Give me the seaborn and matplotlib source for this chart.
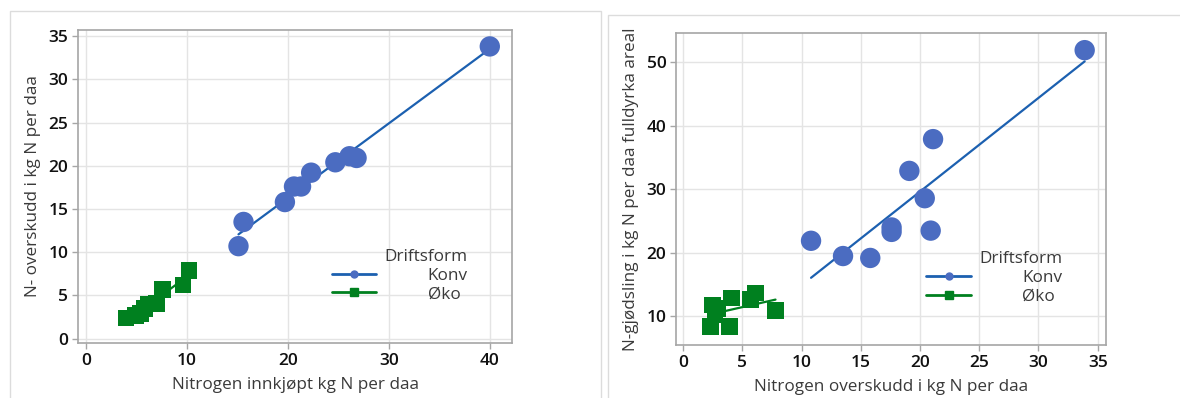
import numpy as np
import pandas as pd
import matplotlib
matplotlib.use("Agg")
import matplotlib.pyplot as plt
from matplotlib.lines import Line2D
from matplotlib.patches import Rectangle
import seaborn as sns

# ---------------- data ----------------
# Left panel: Nitrogen innkjøpt vs N-overskudd
left_konv_x = [15.1, 15.6, 19.7, 20.6, 21.3, 22.3, 24.7, 26.1, 26.8, 40.0]
left_konv_y = [10.7, 13.5, 15.8, 17.6, 17.6, 19.2, 20.4, 21.1, 20.9, 33.8]
left_oko_x = [3.95, 4.9, 5.4, 5.8, 6.2, 7.0, 7.6, 9.6, 10.2]
left_oko_y = [2.4, 2.7, 2.9, 3.5, 4.0, 4.1, 5.7, 6.2, 7.9]

# Right panel: N-overskudd vs N-gjødsling
right_konv_x = [10.8, 13.5, 15.8, 17.6, 17.6, 19.1, 20.4, 20.9, 21.1, 33.9]
right_konv_y = [21.9, 19.5, 19.2, 24.0, 23.3, 32.9, 28.6, 23.5, 37.9, 51.9]
right_oko_x = [2.3, 2.5, 2.7, 2.9, 3.9, 4.1, 5.7, 6.1, 7.8]
right_oko_y = [8.4, 11.8, 10.2, 11.2, 8.4, 12.9, 12.7, 13.7, 10.9]

groups = ["Konv", "Øko"]
legend_title = "Driftsform"

left_xlabel = "Nitrogen innkjøpt kg N per daa"
left_ylabel = "N- overskudd i kg N per daa"
right_xlabel = "Nitrogen overskudd i kg N per daa"
right_ylabel = "N-gjødsling i kg N per daa fulldyrka areal"

left_xticks = [0, 10, 20, 30, 40]
left_yticks = [0, 5, 10, 15, 20, 25, 30, 35]
right_xticks = [0, 5, 10, 15, 20, 25, 30, 35]
right_yticks = [10, 20, 30, 40, 50]

# ---------------- style ----------------
sns.set_theme(style="white")
plt.rcParams["font.family"] = ["Open Sans", "DejaVu Sans"]

DOT = "#4B6CC1"
LINE_BLUE = "#1C60B0"
GREEN = "#00801F"
GRID = "#E4E4E4"
SPINE = "#A6A6A6"
FS_TICK = 12.5
FS = 12.3

W, H = 1180, 398
fig = plt.figure(figsize=(W / 100, H / 100), dpi=100)
fig.patch.set_facecolor("white")

# panel frames
def px_rect(x0, y0, x1, y1):
    fig.add_artist(Rectangle((x0 / W, 1 - y1 / H), (x1 - x0) / W, (y1 - y0) / H,
                             transform=fig.transFigure, fill=False,
                             edgecolor="#DCDCDC", linewidth=1.0))

px_rect(10, 11, 601, 420)
px_rect(608, 15, 1200, 420)

def make_ax(x0, y0, x1, y1):
    return fig.add_axes([x0 / W, 1 - y1 / H, (x1 - x0) / W, (y1 - y0) / H])

axL = make_ax(78, 30, 512, 343)
axR = make_ax(676, 33, 1106, 345)


def draw(ax, kx, ky, ox, oy, xlim, ylim, xticks, yticks, xlabel, ylabel, leg_anchor):
    dk = pd.DataFrame({"x": kx, "y": ky})
    do = pd.DataFrame({"x": ox, "y": oy})
    sns.regplot(data=dk, x="x", y="y", ax=ax, scatter=False, ci=None, truncate=True,
                color=LINE_BLUE, line_kws={"linewidth": 1.6, "zorder": 2})
    sns.regplot(data=do, x="x", y="y", ax=ax, scatter=False, ci=None, truncate=True,
                color=GREEN, line_kws={"linewidth": 1.6, "zorder": 2})
    sns.scatterplot(data=dk, x="x", y="y", ax=ax, marker="o", s=215, color=DOT,
                    edgecolor="none", linewidth=0, zorder=3)
    sns.scatterplot(data=do, x="x", y="y", ax=ax, marker="s", s=145, color=GREEN,
                    edgecolor="none", linewidth=0, zorder=3)
    ax.set_xlim(*xlim)
    ax.set_ylim(*ylim)
    ax.set_xticks(xticks)
    ax.set_yticks(yticks)
    ax.grid(True, color=GRID, linewidth=1.0)
    ax.set_axisbelow(True)
    for sp in ax.spines.values():
        sp.set_color(SPINE)
        sp.set_linewidth(1.2)
    ax.tick_params(axis="both", which="major", direction="out", length=4, width=1,
                   color=SPINE, labelsize=FS_TICK, labelcolor="#111111", pad=3,
                   bottom=True, left=True)
    for lab in ax.get_xticklabels() + ax.get_yticklabels():
        lab.set_fontweight("semibold")
    ax.set_xlabel(xlabel, fontsize=FS, color="#3A3A3A", labelpad=6)
    ax.set_ylabel(ylabel, fontsize=FS, color="#3A3A3A", labelpad=5)

    handles = [
        Line2D([0], [0], color=LINE_BLUE, linewidth=2, marker="o", markersize=5,
               markerfacecolor=DOT, markeredgecolor=DOT),
        Line2D([0], [0], color=GREEN, linewidth=2, marker="s", markersize=5.5,
               markerfacecolor=GREEN, markeredgecolor=GREEN),
    ]
    leg = ax.legend(handles, groups, title=legend_title, loc="upper right",
                    bbox_to_anchor=leg_anchor, frameon=False, fontsize=FS,
                    title_fontsize=FS, alignment="right", handlelength=2.6,
                    handletextpad=3.0, borderpad=0, borderaxespad=0,
                    labelspacing=0.15)
    for t in leg.get_texts():
        t.set_color("#3A3A3A")
    leg.get_title().set_color("#3A3A3A")


draw(axL, left_konv_x, left_konv_y, left_oko_x, left_oko_y,
     (-0.8, 42.2), (-0.5, 35.7), left_xticks, left_yticks,
     left_xlabel, left_ylabel, (0.898, 0.30))
draw(axR, right_konv_x, right_konv_y, right_oko_x, right_oko_y,
     (-0.6, 35.7), (5.5, 54.6), right_xticks, right_yticks,
     right_xlabel, right_ylabel, (0.898, 0.30))

fig.savefig("out.png", dpi=100, facecolor="white")
